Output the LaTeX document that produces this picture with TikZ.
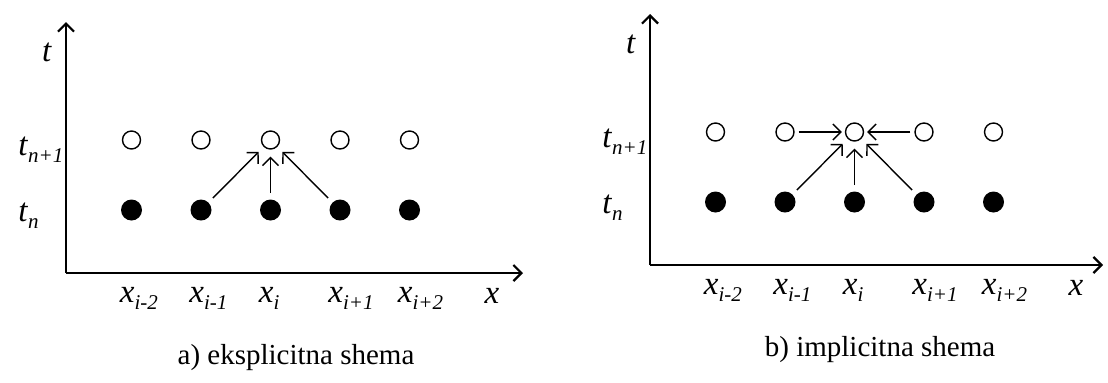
\documentclass[tikz,border=0pt]{standalone}
\usepackage{fontspec}
\setmainfont{Liberation Serif}
\usetikzlibrary{arrows.meta,positioning}

% italic letter with italic index
\newcommand{\lbl}[2]{\textit{#1}\raisebox{-0.5ex}{\fontsize{10.5}{10.5}\selectfont\textit{#2}}}

\begin{document}
\begin{tikzpicture}[x=0.5pt, y=-0.5pt, >={Straight Barb[length=4pt,width=8pt]},
  axis/.style={line width=1.1pt, ->},
  newpt/.style={circle, draw, line width=0.7pt, minimum size=9pt, inner sep=0pt},
  oldpt/.style={circle, fill, minimum size=10.5pt, inner sep=0pt},
  dep/.style={->, line width=0.7pt, shorten <=3pt, shorten >=3.5pt},
  lab/.style={font=\fontsize{16.5}{16.5}\selectfont, inner sep=0pt},
  captext/.style={font=\fontsize{14.5}{16}\selectfont}]
\useasboundingbox (0,0) rectangle (1108,382);

\foreach \p/\dx/\dy/\len/\txt in {a/0/0/457/{a) eksplicitna shema}, b/584/-8/453/{b) implicitna shema}} {
  \begin{scope}[shift={(\dx,\dy)}]
    \coordinate (\p O) at (66,273);
    \coordinate (\p T) at (66,22);
    \coordinate (\p X) at (66+\len,273);
    \draw[axis] (\p O) -- (\p T);
    \draw[axis] (\p O) -- (\p X);
    \node[lab] (\p t) at (47,52) {\textit{t}};
    \node[lab, anchor=base west] (\p t1) at (18,155) {\lbl{t}{n+1}};
    \node[lab, anchor=base west] (\p t0) at (18,221) {\lbl{t}{n}};
    \node[lab] (\p x) at (492,296) {\textit{x}};
    \foreach \i/\s in {1/i-2,2/i-1,3/i,4/i+1,5/i+2} {
      \node[newpt] (\p n\i) at ({62+69.5*\i},140) {};
      \node[oldpt] (\p o\i) at ({62+69.5*\i},210) {};
      \node[lab, anchor=base west] (\p x\i) at ({50+69.5*\i},302) {\lbl{x}{\s}};
    }
    \draw[dep] (\p o2) -- (\p n3);
    \draw[dep] (\p o3) -- (\p n3);
    \draw[dep] (\p o4) -- (\p n3);
    \node[captext] (\p cap) at (296,358) {\txt};
  \end{scope}
}

% implicit: neighbours on the new level
\draw[dep, shorten <=2pt, shorten >=1.5pt] (bn2) -- (bn3);
\draw[dep, shorten <=2pt, shorten >=1.5pt] (bn4) -- (bn3);
\end{tikzpicture}
\end{document}
